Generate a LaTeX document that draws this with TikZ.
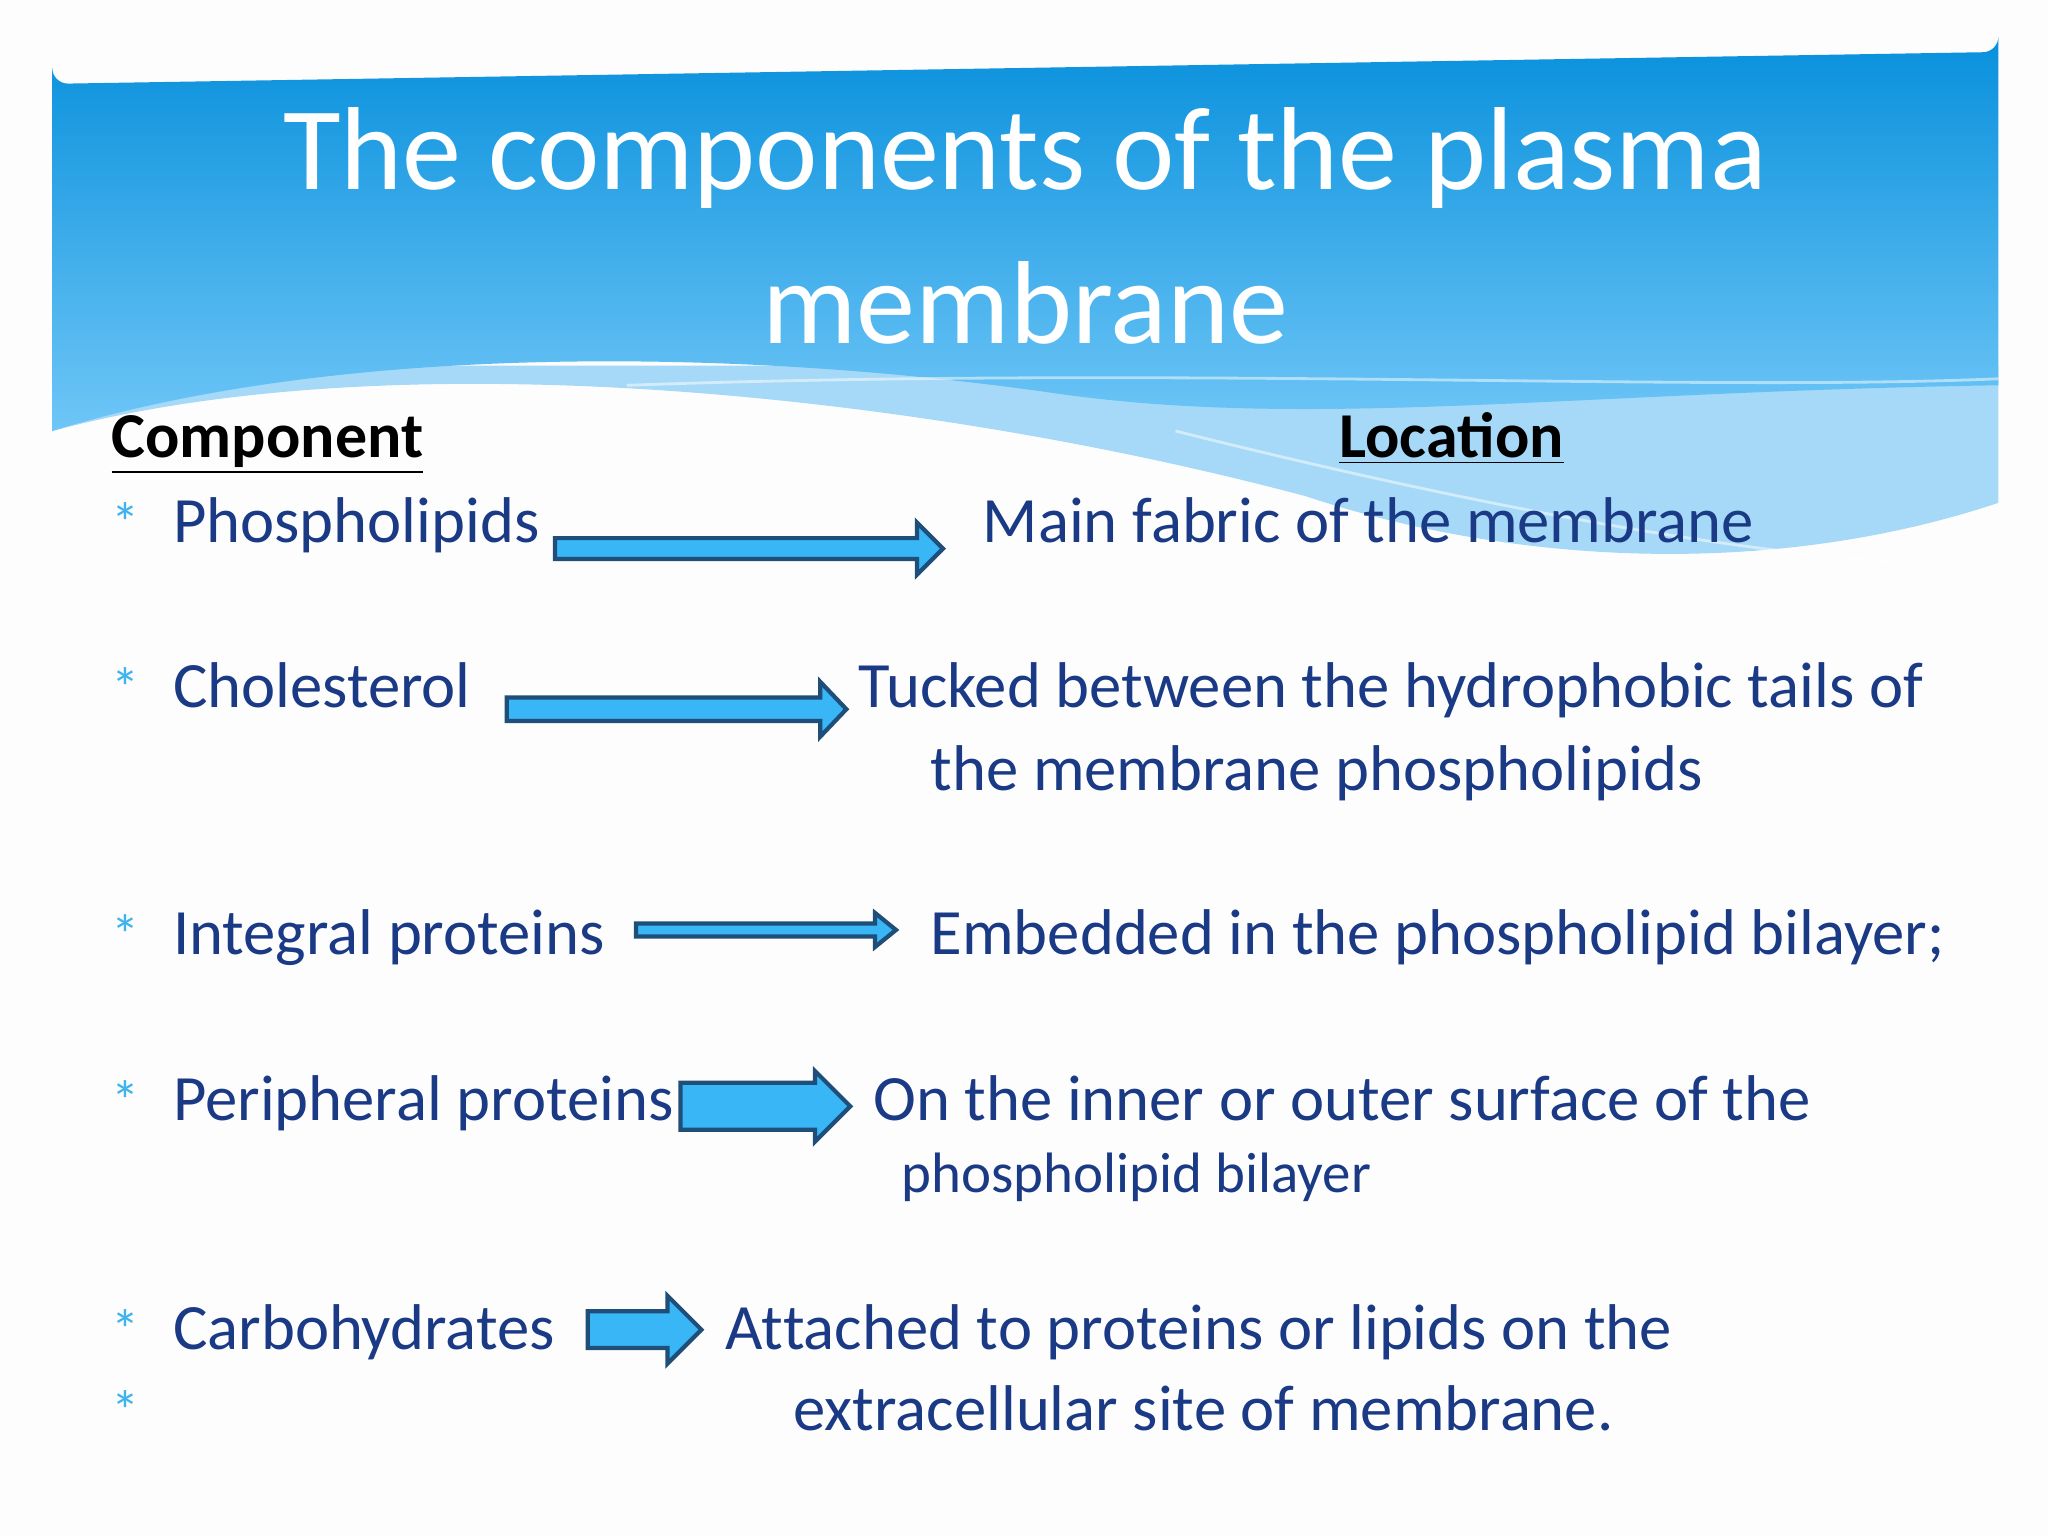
\documentclass[tikz,border=0pt]{standalone}
\usepackage{fontspec}
\setmainfont{Carlito}
\definecolor{navy}{HTML}{1B3A85}
\definecolor{bul}{HTML}{3FB3EE}
\definecolor{afill}{HTML}{38B6F5}
\definecolor{aline}{HTML}{1F4E79}
\definecolor{hdtop}{HTML}{0890DC}
\definecolor{hdbot}{HTML}{6FC6F7}
\definecolor{lband}{HTML}{A6D9F7}
\definecolor{bg}{HTML}{FDFDFD}
\newcommand\barrow[6]{% x1 x2 y halfshaft halfhead headlen
  \draw[blockarr] (#1,#3-#4) -- (#2-#6,#3-#4) -- (#2-#6,#3-#5) -- (#2,#3) -- (#2-#6,#3+#5) -- (#2-#6,#3+#4) -- (#1,#3+#4) -- cycle;}
\begin{document}
\begin{tikzpicture}[x=0.01306cm,y=-0.01306cm,
  blockarr/.style={fill=afill,draw=aline,line width=1.2pt,line join=miter},
  body/.style={anchor=base west,text=navy,font=\fontsize{18.4}{22}\selectfont,inner sep=0},
  hdr/.style={anchor=base west,font=\fontsize{18.2}{22}\selectfont\bfseries,inner sep=0},
  bullet/.style={anchor=base,text=bul,font=\fontsize{16}{18}\selectfont,inner sep=0}]
\useasboundingbox (0,0) rectangle (1568,1176);
\fill[bg] (0,0) rectangle (1568,1176);
% light band
\fill[lband] (40,330) .. controls (300,260) and (700,300) .. (1000,380) .. controls (1150,430) and (1350,445) .. (1530,385) -- (1530,280) -- (40,280) -- cycle;
% main header
\shade[top color=hdtop,bottom color=hdbot] (40,330) -- (40,52) arc[start angle=180,end angle=90,radius=12] -- (1518,40) arc[start angle=90,end angle=0,radius=12] -- (1530,295) .. controls (1200,300) and (1000,330) .. (800,300) .. controls (550,265) and (250,265) .. (40,330) -- cycle;
\draw[white,opacity=0.5,line width=0.8pt] (480,295) .. controls (900,280) and (1300,300) .. (1530,290);
\draw[white,opacity=0.5,line width=0.8pt] (900,330) .. controls (1100,380) and (1300,420) .. (1450,430);
\node[text=white,font=\fontsize{33.6}{44}\selectfont,align=center] (title) at (785,173) {The components of the plasma\\membrane};
\node[hdr] (hc) at (85,350) {\underline{Component}};
\node[hdr] (hl) at (1025,350) {\underline{Loca\kern0pt tion}};
\foreach \y in {415,542,731,858,1033,1095} \node[bullet] at (96,\y) {*};
\node[body] (c1) at (132,415) {Phospholipids};
\node[body] (c2) at (132,542) {Cholesterol};
\node[body] (c3) at (132,731) {Integral proteins};
\node[body] (c4) at (132,858) {Peripheral proteins};
\node[body] (c5) at (132,1033) {Carbohydrates};
\node[body] (l1) at (752,415) {Main fabric of the membrane};
\node[body] (l2) at (657,542) {Tucked between the hydrophobic tails of};
\node[body] (l2b) at (712,605) {the membrane phospholipids};
\node[body] (l3) at (712,731) {Embedded in the phospholipid bilayer;};
\node[body] (l4) at (668,858) {On the inner or outer surface of the};
\node[body,font=\fontsize{16.2}{19}\selectfont] (l4b) at (690,913) {phospholipid bilayer};
\node[body] (l5) at (555,1033) {At\kern0pt tached to proteins or lipids on the};
\node[body] (l5b) at (607,1095) {extracellular site of membrane.};
\barrow{425}{722}{420}{8}{20}{20}
\barrow{388}{648}{543}{9}{21}{20}
\barrow{487}{686}{712}{5}{13}{16}
\barrow{521}{651}{847}{18}{27}{27}
\barrow{450}{537}{1018}{14}{26}{26}
\end{tikzpicture}
\end{document}
